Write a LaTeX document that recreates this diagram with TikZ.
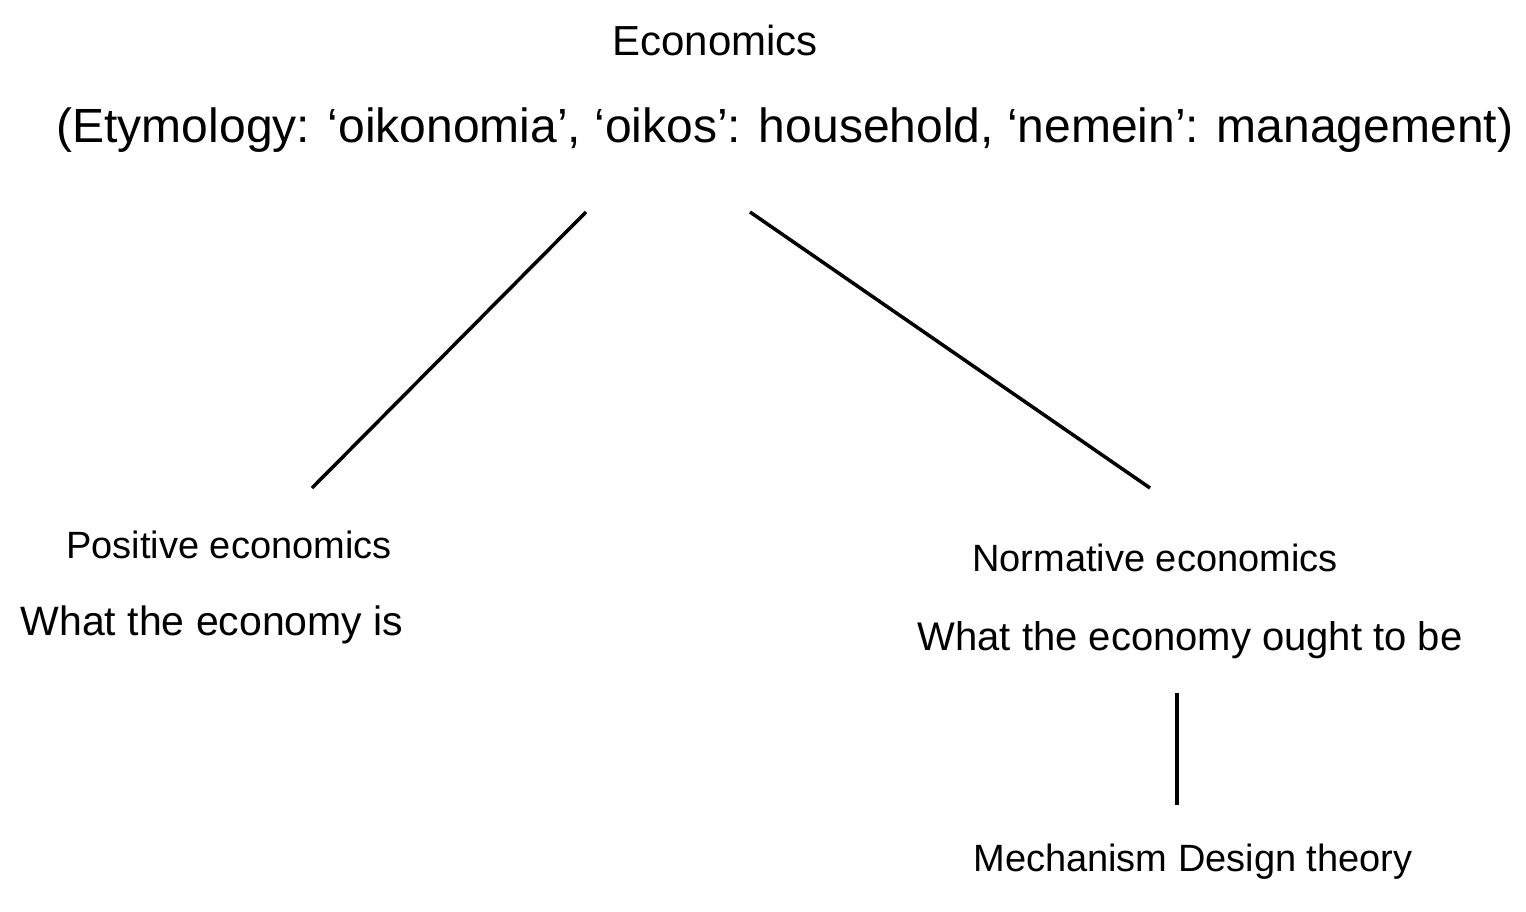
\documentclass[tikz,border=0pt]{standalone}
\usepackage{fontspec}
\setmainfont{Liberation Sans}
\begin{document}
\begin{tikzpicture}[x=1pt,y=-1pt,
  lbl/.style={inner sep=0pt, anchor=center, font=\fontsize{38}{44}\selectfont},
  conn/.style={line width=3.5pt, black}]
\useasboundingbox[fill=white] (0,0) rectangle (1526,911);
\node[lbl, font=\fontsize{42}{48}\selectfont] (econ) at (715,40) {Economics};
\node[lbl, font=\fontsize{48}{54}\selectfont] (etym) at (785,130) {(Etymology: ‘oikonomia’, ‘oikos’: household, ‘nemein’: management)};
\coordinate (l1a) at (586,212);
\coordinate (l2a) at (750,212);
\node[lbl] (pos) at (229,545) {Positive economics};
\node[lbl, font=\fontsize{41}{48}\selectfont] (posd) at (212,625) {What the economy is};
\node[lbl] (norm) at (1155,558) {Normative economics};
\node[lbl, font=\fontsize{40}{48}\selectfont] (normd) at (1190,640) {What the economy ought to be};
\node[lbl] (mech) at (1193,862) {Mechanism Design theory};
\coordinate (l1b) at (312,488);
\coordinate (l2b) at (1150,488);
\coordinate (v1) at (1177,693);
\coordinate (v2) at (1177,805);
\draw[conn] (l1a) -- (l1b);
\draw[conn] (l2a) -- (l2b);
\draw[conn] (v1) -- (v2);
\end{tikzpicture}
\end{document}
